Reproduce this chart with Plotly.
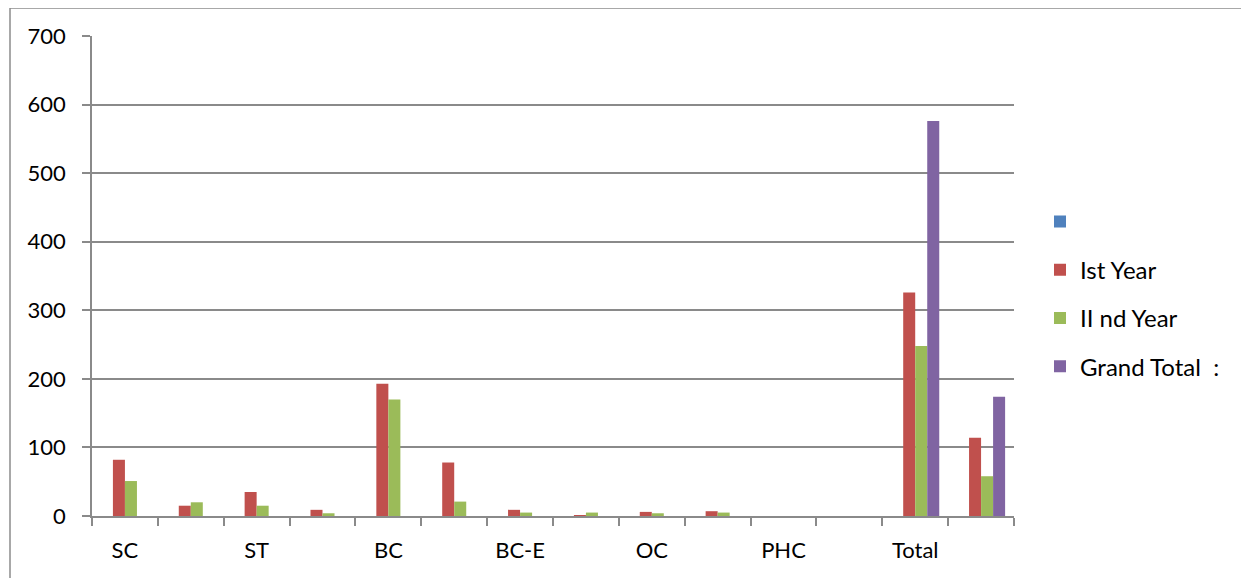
import plotly.graph_objects as go

categories = ["SC", " ", "ST", "  ", "BC", "   ", "BC-E", "    ", "OC", "     ", "PHC", "      ", "Total", "       "]
series_blank = [None] * 14
ist_year = [82, 15, 35, 9, 193, 78, 9, 1, 6, 7, 0, 0, 326, 114]
iind_year = [51, 20, 15, 4, 170, 21, 5, 5, 4, 5, 0, 0, 248, 58]
grand_total = [None] * 12 + [576, 174]

names = [" ", "Ist Year", "II nd Year", "Grand Total  :"]
colors = ["#4F81BD", "#C0504D", "#9BBB59", "#8064A2"]
values = [series_blank, ist_year, iind_year, grand_total]

# page body has an 8px margin; work in page pixels and convert
OFF = 8
W, H = 1249 - OFF, 578 - OFF
L, R, T, B = 92 - OFF, 1014 - OFF, 36 - OFF, 516 - OFF
pw, ph = R - L, B - T

fig = go.Figure()
for i, (n, c, v) in enumerate(zip(names, colors, values)):
    fig.add_trace(go.Bar(x=categories, y=v, name=n, marker_color=c,
                         marker_line_width=0, legendgroup=str(i)))

def px(x):
    return (x - OFF - L) / pw

def py(y):
    return (B - (y - OFF)) / ph

grid = "#8a8a8a"
fig.update_layout(
    width=W, height=H,
    margin=dict(l=L, r=W - R, t=T, b=H - B, autoexpand=False),
    paper_bgcolor="white", plot_bgcolor="white",
    barmode="group", bargap=0.27, bargroupgap=0,
    font=dict(family="Lato, Calibri, sans-serif", size=22, color="black"),
    showlegend=True,
    legend=dict(x=px(1040), xanchor="left", y=py(294), yanchor="middle",
                traceorder="grouped", tracegroupgap=14,
                font=dict(size=24), bgcolor="rgba(0,0,0,0)"),
    xaxis=dict(type="category", showline=True, linecolor=grid, linewidth=1.5,
               ticks="outside", tickson="boundaries", ticklen=8, tickcolor=grid,
               tickwidth=1.5, showgrid=False, ticklabelstandoff=14,
               tickfont=dict(size=22)),
    yaxis=dict(range=[0, 700], dtick=100, showline=True, linecolor=grid,
               linewidth=1.5, ticks="outside", ticklen=8, tickcolor=grid,
               tickwidth=1.5, showgrid=True, gridcolor=grid, gridwidth=1.5,
               zeroline=False, ticklabelstandoff=12, tickfont=dict(size=22)),
    shapes=[
        dict(type="path", xref="paper", yref="paper",
             path=f"M {px(10)},{py(600)} L {px(10)},{py(8)} L {px(1260)},{py(8)}",
             line=dict(color="#8c8c8c", width=1.5)),
    ],
)

fig.write_html("out.html")
